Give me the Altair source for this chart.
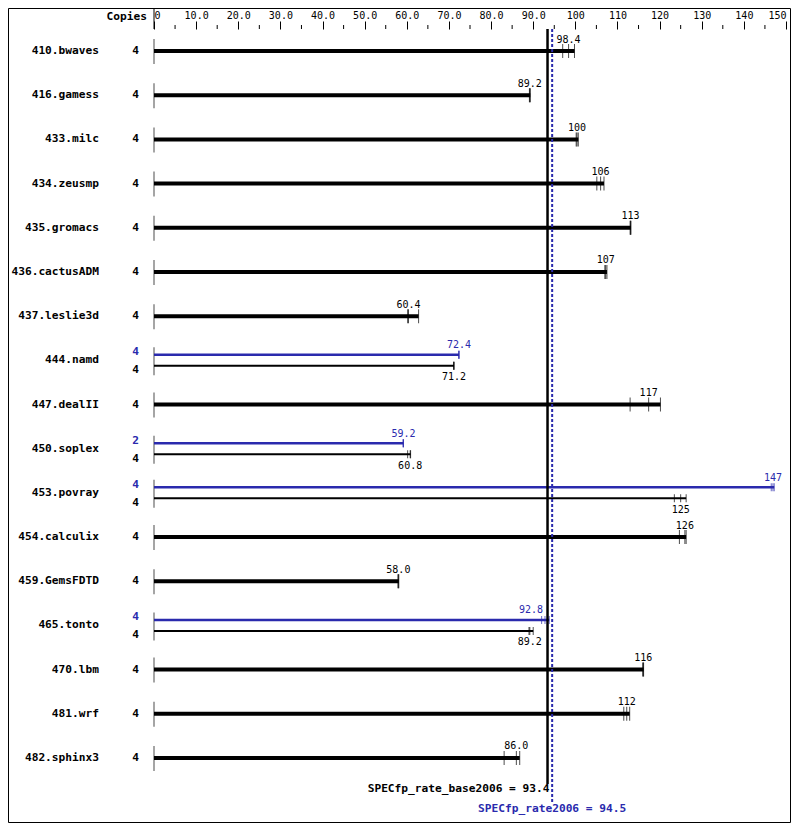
import altair as alt
import pandas as pd

benchmarks = ["410.bwaves", "416.gamess", "433.milc", "434.zeusmp", "435.gromacs",
              "436.cactusADM", "437.leslie3d", "444.namd", "447.dealII", "450.soplex",
              "453.povray", "454.calculix", "459.GemsFDTD", "465.tonto", "470.lbm",
              "481.wrf", "482.sphinx3"]
base_copies = [4, 4, 4, 4, 4, 4, 4, 4, 4, 4, 4, 4, 4, 4, 4, 4, 4]
base_ratio = [98.4, 89.2, 100.4, 106.0, 113.1, 107.2, 60.4, 71.2, 117.4, 60.8,
              125.0, 126.0, 58.0, 89.2, 116.1, 112.2, 86.0]
base_runs = [[97.0, 98.4, 99.8], [89.1, 89.2, 89.3], [100.2, 100.4, 100.7],
             [105.1, 106.0, 106.8], [113.0, 113.1, 113.2], [107.0, 107.2, 107.5],
             [60.2, 60.4, 62.8], [71.1, 71.2, 71.2], [113.0, 117.4, 120.2],
             [60.2, 60.8, 60.9], [123.5, 125.0, 126.3], [124.7, 126.0, 126.3],
             [57.9, 58.0, 58.1], [89.0, 89.2, 90.0], [116.0, 116.1, 116.2],
             [111.5, 112.2, 112.9], [83.1, 86.0, 86.8]]
peak_benchmarks = ["444.namd", "450.soplex", "453.povray", "465.tonto"]
peak_copies = [4, 2, 4, 4]
peak_ratio = [72.4, 59.2, 146.9, 92.8]
peak_runs = [[72.3, 72.4, 72.4], [59.1, 59.2, 59.2], [146.5, 146.9, 147.2],
             [92.0, 92.8, 93.8]]
base_mean = 93.4
peak_mean = 94.5
major_ticks = [0, 10, 20, 30, 40, 50, 60, 70, 80, 90, 100, 110, 120, 130, 140, 150]
minor_ticks = [5, 15, 25, 35, 45, 55, 65, 75, 85, 95, 105, 115, 125, 135, 145]

BLUE = "#2a2aad"
MONO = "DejaVu Sans Mono"
BIG = 11.2

# ---------- tables ----------
rows = pd.DataFrame({"bench": benchmarks, "copies": base_copies, "ratio": base_ratio,
                     "max": [max(r) for r in base_runs]})
rows["dual"] = rows["bench"].isin(peak_benchmarks)
single = rows[~rows["dual"]]
dual_base = rows[rows["dual"]]
peak = pd.DataFrame({"bench": peak_benchmarks, "copies": peak_copies, "ratio": peak_ratio,
                     "max": [max(r) for r in peak_runs]})

base_run_rows = []
for b, runs in zip(benchmarks, base_runs):
    for v in runs:
        base_run_rows.append({"bench": b, "v": v, "dual": b in peak_benchmarks})
base_run_df = pd.DataFrame(base_run_rows)
single_runs = base_run_df[~base_run_df["dual"]]
dual_runs = base_run_df[base_run_df["dual"]]
peak_run_df = pd.DataFrame([{"bench": b, "v": v} for b, runs in zip(peak_benchmarks, peak_runs) for v in runs])

ref = pd.DataFrame({"base": [base_mean], "peak": [peak_mean], "zero": [0],
                    "base_label": [f"SPECfp_rate_base2006 = {base_mean}"],
                    "peak_label": [f"SPECfp_rate2006 = {peak_mean}"]})
minor_df = pd.DataFrame({"v": minor_ticks})

xscale = alt.Scale(domain=[0, 150], nice=False, zero=True)
xaxis = alt.Axis(orient="top", values=major_ticks, tickSize=8, tickColor="black",
                 domain=False, grid=False, labelFont=MONO, labelFontSize=10,
                 labelColor="black", labelFlush=True, labelPadding=1,
                 labelExpr="datum.value == 0 ? '0' : (datum.value < 100 ? format(datum.value, '.1f') : format(datum.value, 'd'))")


def X(field):
    return alt.X(field, type="quantitative", scale=xscale, axis=xaxis, title=None)


Y = alt.Y("bench:N", sort=benchmarks, title=None, axis=None,
          scale=alt.Scale(type="band", domain=benchmarks, paddingInner=0, paddingOuter=0))

fmt = "datum.ratio < 100 ? format(datum.ratio, '.1f') : format(datum.ratio, '.0f')"
near_mean = f"abs(datum.ratio - {base_mean}) < 3"

layers = []

# start lines of each row
layers.append(alt.Chart(single).mark_tick(size=25, thickness=1, color="black", yOffset=0.5)
              .encode(x=X("zero:Q"), y=Y).transform_calculate(zero="0"))
layers.append(alt.Chart(dual_base).mark_tick(size=28, thickness=1, color="black", yOffset=1)
              .encode(x=X("zero:Q"), y=Y).transform_calculate(zero="0"))

# single bars
layers.append(alt.Chart(single).mark_bar(size=4, color="black").encode(x=X("max:Q"), y=Y))
layers.append(alt.Chart(single_runs).mark_tick(size=14, thickness=1, color="black")
              .encode(x=X("v:Q"), y=Y))
layers.append(alt.Chart(single).mark_text(font=MONO, fontSize=10, color="black", dy=-8.5,
                                          baseline="alphabetic", align="center")
              .encode(x=X("ratio:Q"), y=Y, text="label:N").transform_calculate(label=fmt))

# peak bars (blue)
layers.append(alt.Chart(peak).mark_bar(size=2.5, color=BLUE, yOffset=-5.5).encode(x=X("max:Q"), y=Y))
layers.append(alt.Chart(peak_run_df).mark_tick(size=8, thickness=1, color=BLUE, yOffset=-5.5)
              .encode(x=X("v:Q"), y=Y))
layers.append(alt.Chart(peak).mark_text(font=MONO, fontSize=10, color=BLUE, dy=-12,
                                        baseline="alphabetic", align="center")
              .encode(x=X("ratio:Q"), y=Y, text="label:N")
              .transform_filter(f"!({near_mean})").transform_calculate(label=fmt))
layers.append(alt.Chart(peak).mark_text(font=MONO, fontSize=10, color=BLUE, dy=-12, dx=-2,
                                        baseline="alphabetic", align="right")
              .encode(x=X("ratio:Q"), y=Y, text="label:N")
              .transform_filter(near_mean).transform_calculate(label=fmt))

# base bars in dual rows
layers.append(alt.Chart(dual_base).mark_bar(size=2, color="black", yOffset=5.5).encode(x=X("max:Q"), y=Y))
layers.append(alt.Chart(dual_runs).mark_tick(size=8, thickness=1, color="black", yOffset=5.5)
              .encode(x=X("v:Q"), y=Y))
layers.append(alt.Chart(dual_base).mark_text(font=MONO, fontSize=10, color="black", dy=20,
                                             baseline="alphabetic", align="center")
              .encode(x=X("ratio:Q"), y=Y, text="label:N").transform_calculate(label=fmt))

# row labels and copies
layers.append(alt.Chart(rows).mark_text(font=MONO, fontSize=BIG, fontWeight="bold", color="black",
                                        align="right", baseline="middle")
              .encode(x=alt.value(-55), y=Y, text="bench:N"))
layers.append(alt.Chart(single).mark_text(font=MONO, fontSize=BIG, fontWeight="bold", color="black",
                                          align="center", baseline="middle")
              .encode(x=alt.value(-18.5), y=Y, text="copies:N"))
layers.append(alt.Chart(dual_base).mark_text(font=MONO, fontSize=BIG, fontWeight="bold", color="black",
                                             align="center", baseline="middle", dy=10)
              .encode(x=alt.value(-18.5), y=Y, text="copies:N"))
layers.append(alt.Chart(peak).mark_text(font=MONO, fontSize=BIG, fontWeight="bold", color=BLUE,
                                        align="center", baseline="middle", dy=-8)
              .encode(x=alt.value(-18.5), y=Y, text="copies:N"))

# minor axis ticks
layers.append(alt.Chart(minor_df).mark_rule(color="black", strokeWidth=1)
              .encode(x=X("v:Q"), y=alt.value(-4), y2=alt.value(0)))
# separator next to "Copies"
layers.append(alt.Chart(ref).mark_rule(color="black", strokeWidth=1)
              .encode(x=X("zero:Q"), y=alt.value(-21), y2=alt.value(0)))
layers.append(alt.Chart(ref).mark_text(font=MONO, fontSize=BIG, fontWeight="bold", color="black",
                                       align="right", baseline="middle", text="Copies")
              .encode(x=alt.value(-7), y=alt.value(-12.5)))

# reference lines
layers.append(alt.Chart(ref).mark_rule(color="black", strokeWidth=2.5)
              .encode(x=X("base:Q"), y=alt.value(0), y2=alt.value(755)))
layers.append(alt.Chart(ref).mark_rule(color=BLUE, strokeWidth=2, strokeDash=[3, 2])
              .encode(x=X("peak:Q"), y=alt.value(0), y2=alt.value(774)))
layers.append(alt.Chart(ref).mark_text(font=MONO, fontSize=BIG, fontWeight="bold", color="black",
                                       align="right", baseline="middle", dx=2)
              .encode(x=X("base:Q"), y=alt.value(760), text="base_label:N"))
layers.append(alt.Chart(ref).mark_text(font=MONO, fontSize=BIG, fontWeight="bold", color=BLUE,
                                       align="center", baseline="middle")
              .encode(x=X("peak:Q"), y=alt.value(780), text="peak_label:N"))

# frame
layers.append(alt.Chart(ref).mark_rect(fillOpacity=0, stroke="black", strokeWidth=1)
              .encode(x=alt.value(-145.5), x2=alt.value(636.5), y=alt.value(-20.5), y2=alt.value(793.5)))

chart = alt.layer(*layers).properties(
    width=632, height=751,
    padding={"left": 146, "top": 21, "right": 5, "bottom": 43},
    autosize=alt.AutoSizeParams(type="none"),
).configure_view(stroke=None)

chart.save("out.html", embed_options={"renderer": "svg", "actions": False})
